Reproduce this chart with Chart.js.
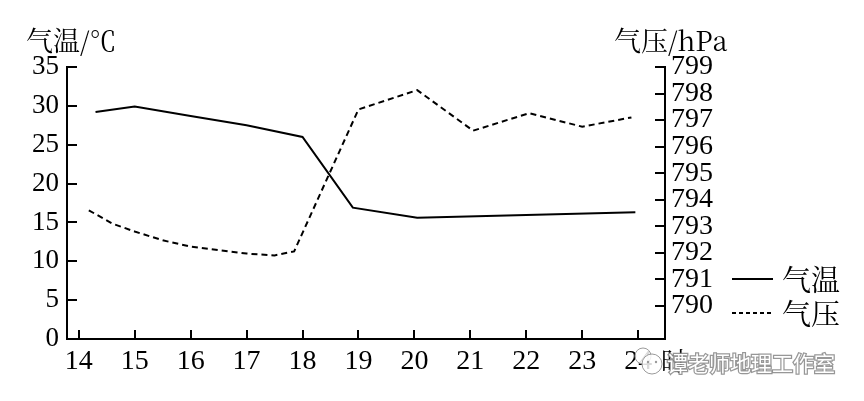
<!DOCTYPE html>
<html>
<head>
<meta charset="utf-8">
<script src="https://cdn.jsdelivr.net/npm/chart.js@4"></script>
<style>
html,body{margin:0;padding:0;background:#fff;}
#wrap{width:864px;height:401px;}
</style>
</head>
<body>
<div id="wrap"><canvas id="c" width="864" height="401"></canvas></div>
<script>
// ---- data ----
const tempHours = [14.3, 15, 16, 17, 18, 18.9, 20.05, 23.95];
const tempValues = [29.2, 29.9, 28.7, 27.5, 26.0, 16.9, 15.6, 16.3];
const presHours = [14.18, 14.6, 15, 15.5, 16, 17, 17.5, 17.85, 19.0, 20.05, 21.05, 22.05, 23.0, 23.88];
const presValues = [793.6, 793.1, 792.8, 792.47, 792.23, 791.97, 791.9, 792.05, 797.4, 798.13, 796.6, 797.26, 796.75, 797.1];
const hourTicks = [14, 15, 16, 17, 18, 19, 20, 21, 22, 23, 24];
const tempTicks = [0, 5, 10, 15, 20, 25, 30, 35];
const presTicks = [790, 791, 792, 793, 794, 795, 796, 797, 798, 799];
const seriesNames = ['气温', '气压'];
const leftTitle = '气温/℃';
const rightTitle = '气压/hPa';
const xUnit = '时';
const watermark = '谭老师地理工作室';

const SERIF = '"Liberation Serif"';
const CJK = '"Noto Serif CJK SC", "Liberation Serif"';
const WM = '"Noto Sans CJK SC"';

Chart.defaults.font.family = SERIF;
Chart.defaults.color = '#000';

const toPts = (xs, ys) => xs.map((x, i) => ({x: x, y: ys[i]}));

const tickPlugin = {
  id: 'inwardTicks',
  afterDatasetsDraw(chart) {
    const ctx = chart.ctx;
    const ca = chart.chartArea;
    ctx.save();
    ctx.strokeStyle = '#000';
    ctx.lineWidth = 2;
    const sx = chart.scales.x, yl = chart.scales.y, yr = chart.scales.y2;
    sx.ticks.forEach(t => {
      const px = Math.round(sx.getPixelForValue(t.value));
      ctx.beginPath(); ctx.moveTo(px, ca.bottom); ctx.lineTo(px, ca.bottom - 9); ctx.stroke();
    });
    yl.ticks.forEach(t => {
      const py = Math.round(yl.getPixelForValue(t.value));
      ctx.beginPath(); ctx.moveTo(ca.left, py); ctx.lineTo(ca.left + 10, py); ctx.stroke();
    });
    yr.ticks.forEach(t => {
      const py = Math.round(yr.getPixelForValue(t.value));
      ctx.beginPath(); ctx.moveTo(ca.right, py); ctx.lineTo(ca.right - 10, py); ctx.stroke();
    });
    ctx.restore();
  },
  afterDraw(chart) {
    const ctx = chart.ctx;
    ctx.save();
    ctx.fillStyle = '#000';
    ctx.textBaseline = 'middle';
    ctx.textAlign = 'left';
    ctx.font = '27px ' + CJK;
    ctx.fillText(leftTitle, 26, 41);
    ctx.fillText(rightTitle, 614, 41);
    // legend
    const ds = chart.data.datasets;
    const ly = [279, 313];
    ds.forEach((d, i) => {
      ctx.strokeStyle = d.borderColor;
      ctx.lineWidth = 2;
      ctx.setLineDash(i === 1 ? [4, 3] : []);
      ctx.beginPath(); ctx.moveTo(732, ly[i]); ctx.lineTo(773, ly[i]); ctx.stroke();
      ctx.setLineDash([]);
      ctx.fillStyle = '#000';
      ctx.font = '29px ' + CJK;
      ctx.fillText(d.label, 782, ly[i] + 1);
    });
    // x unit
    ctx.font = '26px ' + CJK;
    ctx.fillText(xUnit, 661, 361);
    // watermark icon
    ctx.strokeStyle = '#9a9a9a';
    ctx.fillStyle = 'rgba(255,255,255,0.85)';
    ctx.lineWidth = 1;
    ctx.beginPath(); ctx.arc(643, 356, 8, 0, Math.PI * 2); ctx.fill(); ctx.stroke();
    ctx.beginPath(); ctx.arc(652, 364, 10, 0, Math.PI * 2); ctx.fill(); ctx.stroke();
    ctx.fillStyle = '#9a9a9a';
    [[648,362],[656,362]].forEach(p => { ctx.beginPath(); ctx.arc(p[0], p[1], 1.2, 0, Math.PI*2); ctx.fill(); });
    // watermark text
    ctx.font = '21px ' + WM;
    ctx.lineWidth = 2.5;
    ctx.strokeStyle = 'rgba(140,140,140,0.9)';
    ctx.strokeText(watermark, 667, 363);
    ctx.fillStyle = '#fff';
    ctx.fillText(watermark, 667, 363);
    ctx.restore();
  }
};

const fixSize = (w, h) => (scale) => {
  if (w !== null) scale.width = w;
  if (h !== null) scale.height = h;
};

function build() {
  new Chart(document.getElementById('c'), {
    type: 'line',
    data: {
      datasets: [
        {
          label: seriesNames[0],
          data: toPts(tempHours, tempValues),
          yAxisID: 'y',
          borderColor: '#000',
          borderWidth: 2,
          pointRadius: 0,
          tension: 0,
          fill: false
        },
        {
          label: seriesNames[1],
          data: toPts(presHours, presValues),
          yAxisID: 'y2',
          borderColor: '#000',
          borderWidth: 2,
          borderDash: [6, 4],
          pointRadius: 0,
          tension: 0,
          fill: false
        }
      ]
    },
    options: {
      responsive: false,
      animation: false,
      devicePixelRatio: 1,
      layout: {padding: {top: 67, left: 0, right: 0, bottom: 0}},
      plugins: {legend: {display: false}, tooltip: {enabled: false}},
      scales: {
        x: {
          type: 'linear',
          min: 13.79,
          max: 24.48,
          afterBuildTicks: (s) => { s.ticks = hourTicks.map(v => ({value: v})); },
          afterFit: fixSize(null, 62),
          grid: {display: true, drawOnChartArea: false, drawTicks: false},
          border: {display: true, color: '#000', width: 2},
          ticks: {
            padding: 6,
            color: '#000',
            font: {family: SERIF, size: 28},
            maxRotation: 0,
            autoSkip: false,
            callback: (v) => String(v)
          }
        },
        y: {
          type: 'linear',
          position: 'left',
          min: 0,
          max: 35,
          afterBuildTicks: (s) => { s.ticks = tempTicks.map(v => ({value: v})); },
          afterFit: fixSize(67, null),
          grid: {display: true, drawOnChartArea: false, drawTicks: false},
          border: {display: true, color: '#000', width: 2},
          ticks: {
            padding: 8,
            color: '#000',
            autoSkip: false,
            font: {family: SERIF, size: 27},
            callback: (v) => String(v)
          }
        },
        y2: {
          type: 'linear',
          position: 'right',
          min: 788.75,
          max: 799,
          afterBuildTicks: (s) => { s.ticks = presTicks.map(v => ({value: v})); },
          afterFit: fixSize(199, null),
          grid: {display: true, drawOnChartArea: false, drawTicks: false},
          border: {display: true, color: '#000', width: 2},
          ticks: {
            padding: 6,
            color: '#000',
            autoSkip: false,
            font: {family: SERIF, size: 28},
            callback: (v) => String(v)
          }
        }
      }
    },
    plugins: [tickPlugin]
  });
}

Promise.all([
  document.fonts.load('26px "Liberation Serif"', '0123456789'),
  document.fonts.load('24px "Noto Serif CJK SC"', '气温压时℃hPa'),
  document.fonts.load('21px "Noto Sans CJK SC"', '谭老师地理工作室')
]).then(build, build);
</script>
</body>
</html>
